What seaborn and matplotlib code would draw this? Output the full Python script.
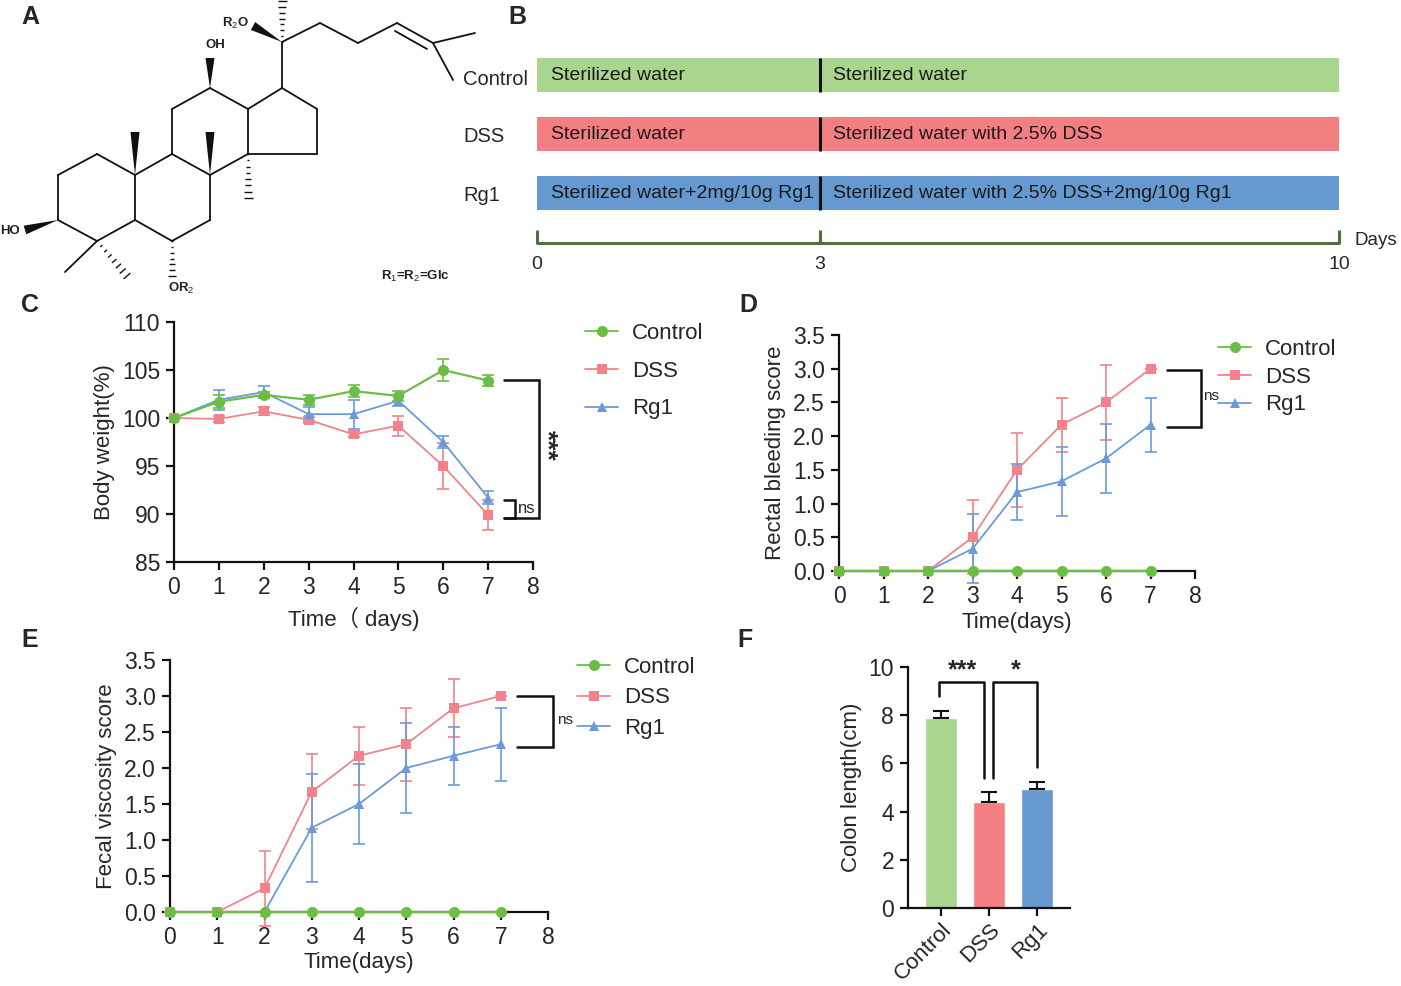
import numpy as np
import pandas as pd
import matplotlib
matplotlib.use("Agg")
import matplotlib.pyplot as plt
from matplotlib.lines import Line2D
from matplotlib.collections import LineCollection
from matplotlib.patches import Polygon
import seaborn as sns

sns.set_style("white")
plt.rcParams['font.family'] = ['Liberation Sans', 'Noto Sans CJK SC', 'DejaVu Sans']
plt.rcParams['mathtext.fontset'] = 'custom'
plt.rcParams['mathtext.rm'] = 'Liberation Sans'
plt.rcParams['mathtext.bf'] = 'Liberation Sans:bold'

# ---------------- data ----------------
groups = ["Control", "DSS", "Rg1"]
days = [0, 1, 2, 3, 4, 5, 6, 7]

bw_control = [100, 101.7, 102.4, 101.9, 102.8, 102.3, 105.0, 103.9]
bw_control_err = [0, 0.7, 0.3, 0.5, 0.65, 0.5, 1.1, 0.6]
bw_dss = [100, 99.9, 100.7, 99.8, 98.3, 99.2, 95.0, 89.9]
bw_dss_err = [0, 0.3, 0.4, 0.3, 0.3, 1.05, 2.35, 1.55]
bw_rg1 = [100, 101.9, 102.7, 100.4, 100.4, 101.8, 97.5, 91.7]
bw_rg1_err = [0, 1.05, 0.6, 0.7, 1.5, 0.6, 0.65, 0.7]

rb_control = [0, 0, 0, 0, 0, 0, 0, 0]
rb_dss = [0, 0, 0, 0.5, 1.5, 2.17, 2.5, 3.0]
rb_dss_err = [0, 0, 0, 0.55, 0.55, 0.4, 0.55, 0]
rb_rg1 = [0, 0, 0, 0.33, 1.17, 1.33, 1.67, 2.17]
rb_rg1_err = [0, 0, 0, 0.51, 0.41, 0.51, 0.51, 0.4]

fv_control = [0, 0, 0, 0, 0, 0, 0, 0]
fv_dss = [0, 0, 0.33, 1.67, 2.17, 2.33, 2.83, 3.0]
fv_dss_err = [0, 0, 0.52, 0.52, 0.4, 0.51, 0.4, 0]
fv_rg1 = [0, 0, 0, 1.17, 1.5, 2.0, 2.17, 2.33]
fv_rg1_err = [0, 0, 0, 0.75, 0.55, 0.63, 0.4, 0.51]

colon_len = [7.9, 4.38, 4.93]
colon_err = [0.27, 0.45, 0.3]

sched_phase1 = ["Sterilized water", "Sterilized water", "Sterilized water+2mg/10g Rg1"]
sched_phase2 = ["Sterilized water", "Sterilized water with 2.5% DSS",
                "Sterilized water with 2.5% DSS+2mg/10g Rg1"]
sched_breaks = [0, 3, 10]

line_colors = {"Control": "#6cbd45", "DSS": "#f2838a", "Rg1": "#6a9bd8"}
line_markers = {"Control": "o", "DSS": "s", "Rg1": "^"}
marker_sizes = {"Control": 8, "DSS": 7.5, "Rg1": 6.5}
bar_colors = {"Control": "#a9d58f", "DSS": "#f47f83", "Rg1": "#6699cf"}

W, H = 1401, 986
fig = plt.figure(figsize=(W / 100, H / 100), dpi=100)


def fig_axes(x0, y0, x1, y1):
    return fig.add_axes([x0 / W, 1 - y1 / H, (x1 - x0) / W, (y1 - y0) / H])


TICK_FS = 16.5
LAB_FS = 16

# ---------------- overlay (panel A drawing + panel letters) ----------------
ov = fig.add_axes([0, 0, 1, 1], zorder=-5)
ov.set_xlim(0, W)
ov.set_ylim(H, 0)
ov.axis("off")

atoms = {
    "a1": (97, 154), "a2": (58, 175), "C3": (58, 220), "C4": (97, 241), "C5": (135, 220),
    "C10": (135, 175), "C9": (172, 154), "C8": (210, 175), "C7": (210, 220), "C6": (172, 241),
    "C11": (172, 109), "C12": (210, 88), "C13": (248, 109), "C14": (248, 154),
    "C17": (282, 88), "C16": (317, 109), "C15": (317, 154), "C20": (282, 42),
    "s1": (320, 23), "s2": (358, 43), "s3": (397, 23), "s4": (433, 43),
    "s5": (475, 33), "s6": (453, 80), "m4": (65, 272),
}
bonds = [("a1", "a2"), ("a2", "C3"), ("C3", "C4"), ("C4", "C5"), ("C5", "C10"), ("C10", "a1"),
         ("C10", "C9"), ("C9", "C8"), ("C8", "C7"), ("C7", "C6"), ("C6", "C5"),
         ("C9", "C11"), ("C11", "C12"), ("C12", "C13"), ("C13", "C14"), ("C14", "C8"),
         ("C13", "C17"), ("C17", "C16"), ("C16", "C15"), ("C15", "C14"),
         ("C17", "C20"), ("C20", "s1"), ("s1", "s2"), ("s2", "s3"), ("s3", "s4"),
         ("s4", "s5"), ("s4", "s6"), ("C4", "m4")]
segs = [[atoms[a], atoms[b]] for a, b in bonds]
segs.append([(395, 31), (427, 49)])  # inner line of double bond
ov.add_collection(LineCollection(segs, colors="#111111", linewidths=1.3, capstyle="round"))


def wedge(p0, p1, w=4.5):
    p0, p1 = np.array(p0, float), np.array(p1, float)
    d = p1 - p0
    n = np.array([-d[1], d[0]]) / np.hypot(*d)
    ov.add_patch(Polygon([p0, p1 + n * w, p1 - n * w], closed=True, color="#111111", lw=0))


def hashed(p0, p1, w=4.5, k=8):
    p0, p1 = np.array(p0, float), np.array(p1, float)
    d = p1 - p0
    n = np.array([-d[1], d[0]]) / np.hypot(*d)
    hs = []
    for i in range(k):
        t = i / (k - 1)
        c = p0 + d * t
        ww = 0.8 + (w - 0.8) * t
        hs.append([c + n * ww, c - n * ww])
    ov.add_collection(LineCollection(hs, colors="#111111", linewidths=1.0))


wedge(atoms["C20"], (253, 26))
hashed(atoms["C20"], (282, 1))
wedge(atoms["C12"], (210, 58))
wedge(atoms["C10"], (135, 132))
wedge(atoms["C8"], (210, 132))
hashed(atoms["C14"], (248, 198))
wedge(atoms["C3"], (25, 230))
hashed(atoms["C4"], (127, 276))
hashed(atoms["C6"], (172, 276), w=4, k=7)

ov.text(235, 23, r"R$_2$O", fontsize=9.5, fontweight="bold", ha="center", va="center", color="#222222")
ov.text(215, 45, "OH", fontsize=9.5, fontweight="bold", ha="center", va="center", color="#222222")
ov.text(10, 231, "HO", fontsize=9.5, fontweight="bold", ha="center", va="center", color="#222222")
ov.text(181, 288, r"OR$_2$", fontsize=9.5, fontweight="bold", ha="center", va="center", color="#222222")
ov.text(415, 276, r"R$_1$=R$_2$=Glc", fontsize=9.5, fontweight="bold", ha="center", va="center", color="#222222")

for lab, (px, py) in {"A": (30, 17), "B": (517, 17), "C": (30, 305),
                      "D": (748, 305), "E": (30, 640), "F": (745, 640)}.items():
    ov.text(px, py, lab, fontsize=18, fontweight="bold", ha="center", va="center")

# ---------------- panel B: schedule ----------------
axB = fig_axes(537, 16, 1339, 252)
fwd = lambda x: np.interp(x, [0, 3, 10], [0, 283, 802])
inv = lambda x: np.interp(x, [0, 283, 802], [0, 3, 10])
axB.set_xscale("function", functions=(fwd, inv))
axB.set_xlim(0, 10)
axB.set_ylim(3, -1)
axB.axis("off")
rows = np.arange(len(groups))
axB.barh(rows, [sched_breaks[2] - sched_breaks[0]] * 3, left=sched_breaks[0], height=0.58,
         color=[bar_colors[g] for g in groups], edgecolor="none")
axB.vlines([sched_breaks[1]] * 3, rows - 0.29, rows + 0.29, colors="#111111", lw=2.2)
for r, g in enumerate(groups):
    axB.annotate(g, xy=(0, r), xytext=(-74, -4 if r == 0 else -2), textcoords="offset pixels",
                 fontsize=14.5, va="center", ha="left", annotation_clip=False)
    axB.annotate(sched_phase1[r], xy=(sched_breaks[0], r), xytext=(14, 0),
                 textcoords="offset pixels", fontsize=14, va="center", color="#1a1a1a")
    axB.annotate(sched_phase2[r], xy=(sched_breaks[1], r), xytext=(13, 0),
                 textcoords="offset pixels", fontsize=14, va="center", color="#1a1a1a")
tl_color = "#4f7040"
axB.hlines(2.847, 0, 10, colors=tl_color, lw=2.2, clip_on=False)
axB.vlines(sched_breaks, 2.627, 2.867, colors=tl_color, lw=2.2, clip_on=False)
for d in sched_breaks:
    axB.text(d, 3.22, str(d), fontsize=14, ha="center", va="center", clip_on=False)
axB.annotate("Days", xy=(10, 2.75), xytext=(15, -3), textcoords="offset pixels",
             fontsize=13.5, va="center", annotation_clip=False)


# ---------------- line panels ----------------
def style_axes(ax):
    for s in ["top", "right"]:
        ax.spines[s].set_visible(False)
    for s in ["left", "bottom"]:
        ax.spines[s].set_linewidth(1.6)
        ax.spines[s].set_color("#111111")
    ax.tick_params(axis="both", which="both", direction="out", length=6, width=1.6,
                   labelsize=TICK_FS, color="#111111", pad=4,
                   left=True, bottom=True)


def line_panel(ax, series, errs):
    df = pd.DataFrame({
        "day": days * 3,
        "value": sum([series[g] for g in groups], []),
        "group": sum([[g] * len(days) for g in groups], []),
    })
    for g in ["DSS", "Rg1", "Control"]:
        ax.errorbar(days, series[g], yerr=errs[g], fmt="none", ecolor=line_colors[g],
                    elinewidth=1.2, capsize=4.5, capthick=1.2, zorder=4, clip_on=False)
    for g in ["DSS", "Rg1", "Control"]:
        sub = df[df["group"] == g]
        sns.lineplot(data=sub, x="day", y="value", color=line_colors[g], marker=line_markers[g],
                     markersize=marker_sizes[g], markeredgewidth=0, linewidth=1.3 if g != "Control" else 1.6,
                     ax=ax, legend=False, zorder=5, clip_on=False, errorbar=None)
    style_axes(ax)
    ax.set_xlim(0, 8)
    ax.set_xticks(range(0, 9))


def add_legend(ax, x_px, y_px, spacing):
    handles = [Line2D([], [], color=line_colors[g], marker=line_markers[g],
                      markersize=marker_sizes[g], markeredgewidth=0, lw=1.3) for g in groups]
    ax.legend(handles, groups, loc="upper left", bbox_to_anchor=(x_px / W, 1 - y_px / H),
              bbox_transform=fig.transFigure, frameon=False, fontsize=LAB_FS,
              handlelength=1.5, handletextpad=0.6, labelspacing=spacing,
              borderpad=0, borderaxespad=0)


def bracket(ax, x0, x1, y0, y1, lw=1.8):
    ax.plot([x0, x1, x1, x0], [y0, y0, y1, y1], color="#111111", lw=lw, clip_on=False,
            solid_joinstyle="miter")


# Panel C
axC = fig_axes(174, 322, 533, 562)
line_panel(axC, {"Control": bw_control, "DSS": bw_dss, "Rg1": bw_rg1},
           {"Control": bw_control_err, "DSS": bw_dss_err, "Rg1": bw_rg1_err})
axC.set_ylim(85, 110)
axC.set_yticks([85, 90, 95, 100, 105, 110])
axC.set_xlabel("Time（ days)", fontsize=LAB_FS, labelpad=6)
axC.set_ylabel("Body weight(%)", fontsize=LAB_FS, labelpad=5)
bracket(axC, 7.36, 8.13, 104.0, 89.6)
bracket(axC, 7.36, 7.6, 91.5, 89.55)
axC.text(7.66, 90.6, "ns", fontsize=12, ha="left", va="center", clip_on=False)
axC.text(8.3, 97.2, "***", fontsize=19, fontweight="bold", rotation=-90, ha="center", va="center",
         clip_on=False)
add_legend(axC, 585, 323, 0.75)

# Panel D
axD = fig_axes(839, 335, 1195, 571)
line_panel(axD, {"Control": rb_control, "DSS": rb_dss, "Rg1": rb_rg1},
           {"Control": [0] * 8, "DSS": rb_dss_err, "Rg1": rb_rg1_err})
axD.set_ylim(0, 3.5)
axD.set_yticks(np.arange(0, 3.6, 0.5))
axD.yaxis.set_major_formatter(matplotlib.ticker.FormatStrFormatter("%.1f"))
axD.set_xlabel("Time(days)", fontsize=LAB_FS, labelpad=3)
axD.set_ylabel("Rectal bleeding score", fontsize=LAB_FS, labelpad=5)
bracket(axD, 7.36, 8.13, 2.98, 2.14)
axD.text(8.36, 2.59, "ns", fontsize=11, ha="center", va="center", clip_on=False)
add_legend(axD, 1218, 339, 0.3)

# Panel E
axE = fig_axes(170, 660, 548, 912)
line_panel(axE, {"Control": fv_control, "DSS": fv_dss, "Rg1": fv_rg1},
           {"Control": [0] * 8, "DSS": fv_dss_err, "Rg1": fv_rg1_err})
axE.set_ylim(0, 3.5)
axE.set_yticks(np.arange(0, 3.6, 0.5))
axE.yaxis.set_major_formatter(matplotlib.ticker.FormatStrFormatter("%.1f"))
axE.set_xlabel("Time(days)", fontsize=LAB_FS, labelpad=2)
axE.set_ylabel("Fecal viscosity score", fontsize=LAB_FS, labelpad=5)
bracket(axE, 7.34, 8.1, 3.0, 2.29)
axE.text(8.37, 2.67, "ns", fontsize=11, ha="center", va="center", clip_on=False)
add_legend(axE, 577, 657, 0.42)

# Panel F
axF = fig_axes(908, 667, 1070, 908)
dfF = pd.DataFrame({"group": groups, "length": colon_len})
sns.barplot(data=dfF, x="group", y="length", hue="group", palette=bar_colors, width=0.67,
            saturation=1, errorbar=None, legend=False, ax=axF, zorder=2)
axF.errorbar(range(3), colon_len, yerr=[[0, 0, 0], colon_err], fmt="none", ecolor="#111111",
             elinewidth=1.5, capsize=6, capthick=1.5, zorder=3)
style_axes(axF)
axF.set_xlim(-0.69, 2.69)
axF.set_ylim(0, 10)
axF.set_yticks([0, 2, 4, 6, 8, 10])
axF.set_xlabel("")
axF.set_ylabel("Colon length(cm)", fontsize=LAB_FS, labelpad=5)
axF.set_xticks(range(3))
axF.set_xticklabels(groups, rotation=45, ha="right", rotation_mode="anchor", fontsize=16)
axF.tick_params(axis="x", pad=2)
axF.plot([-0.04, -0.04, 0.9, 0.9], [8.78, 9.38, 9.38, 5.39], color="#111111", lw=1.8)
axF.plot([1.08, 1.08, 2.0, 2.0], [5.39, 9.38, 9.38, 5.84], color="#111111", lw=1.8)
axF.text(0.45, 9.85, "***", fontsize=18, fontweight="bold", ha="center", va="center")
axF.text(1.55, 9.85, "*", fontsize=18, fontweight="bold", ha="center", va="center")

fig.savefig("out.png", dpi=100)
